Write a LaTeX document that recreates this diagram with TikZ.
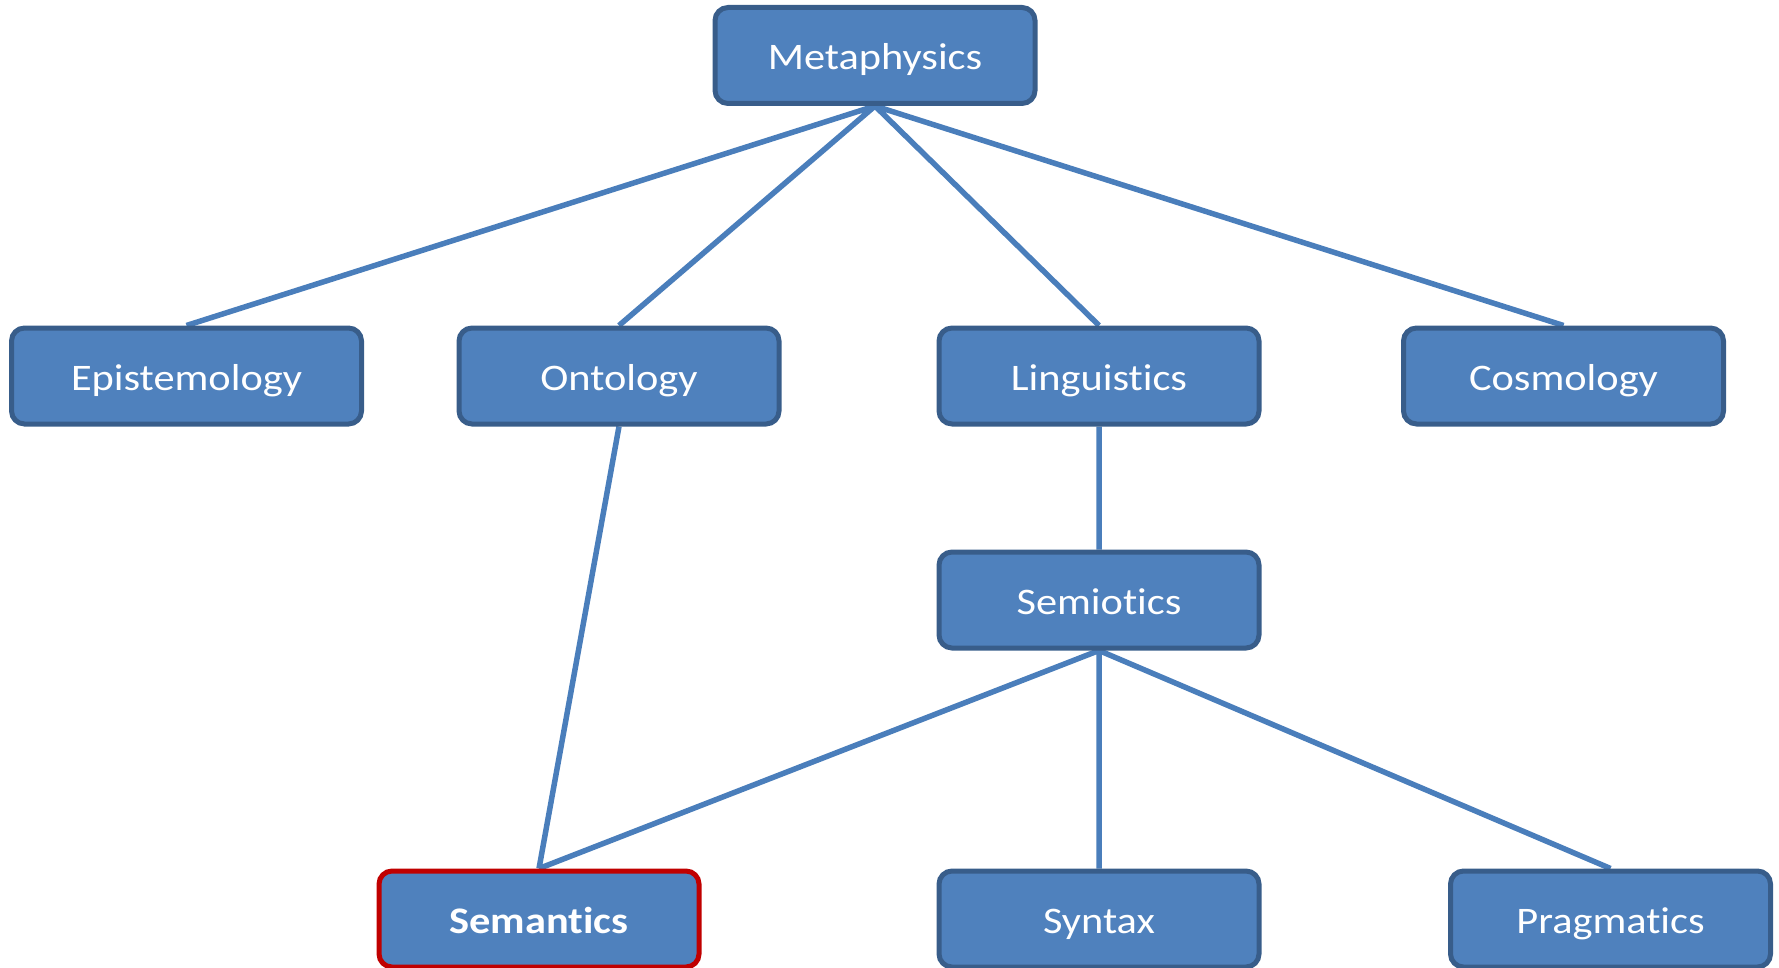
\documentclass[tikz,border=0pt]{standalone}
\usepackage{fontspec}
\setmainfont{Carlito}[FakeStretch=1.13, Ligatures=NoCommon]
\usetikzlibrary{backgrounds}
\definecolor{boxfill}{HTML}{4F81BD}
\definecolor{boxedge}{HTML}{385D8A}
\definecolor{linkcol}{HTML}{4A7EBB}
\definecolor{hilite}{HTML}{C00000}
\begin{document}
\begin{tikzpicture}[x=1pt,y=-1pt,
  topic/.style={draw=boxedge, fill=boxfill, line width=5pt, rounded corners=13pt,
    minimum width=320pt, minimum height=96pt, text=white, inner sep=0pt,
    text height=28.5pt, text depth=0pt,
    font=\fontsize{37.5}{44}\selectfont},
  focus/.style={topic, draw=hilite, font=\fontsize{37.5}{44}\selectfont\bfseries},
  link/.style={draw=linkcol, line width=5.5pt}]
\useasboundingbox (0,0) rectangle (1779,968);
% tree of topics
\node[topic] (meta) at (875,55.5) {Metaphysics};
\node[topic, minimum width=350pt] (epi) at (186.5,376) {Epistemology};
\node[topic] (onto) at (619,376) {Ontology};
\node[topic] (ling) at (1099,376) {Linguistics};
\node[topic] (cosm) at (1563.5,376) {Cosmology};
\node[topic] (semio) at (1099,600) {Semiotics};
\node[focus] (seman) at (539,919) {Semantics};
\node[topic] (synt) at (1099,919) {Syntax};
\node[topic] (prag) at (1610.5,919) {Pragmatics};
% connectors, drawn beneath the boxes
\begin{scope}[on background layer]
\path[link] (meta.south) -- (epi.north)
  (meta.south) -- (onto.north)
  (meta.south) -- (ling.north)
  (meta.south) -- (cosm.north)
  (onto.south) -- (seman.north)
  (ling.south) -- (semio.north)
  (semio.south) -- (seman.north)
  (semio.south) -- (synt.north)
  (semio.south) -- (prag.north);
\end{scope}
\end{tikzpicture}
\end{document}
